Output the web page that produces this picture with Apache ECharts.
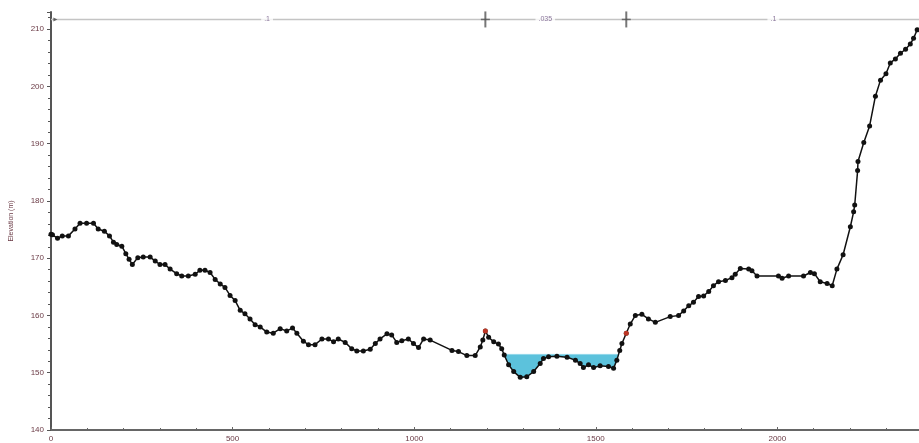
<!DOCTYPE html>
<html>
<head>
<meta charset="utf-8">
<script src="https://cdn.jsdelivr.net/npm/echarts@6/dist/echarts.min.js"></script>
<style>html,body{margin:0;padding:0;background:#fff}#c{width:919px;height:443px}</style>
</head>
<body>
<div id="c"></div>
<script>
// Ground profile: station (m) and elevation (m)
const stations = [0,4,18,31,48,66,80,98,117,130,147,161,172,181,195,206,215,224,239,254,273,287,300,314,328,346,360,378,397,410,424,438,452,466,479,493,507,521,534,548,562,576,594,612,631,649,665,677,695,709,727,746,764,778,791,810,828,842,860,879,893,906,925,938,952,966,984,998,1012,1026,1044,1104,1122,1145,1168,1182,1189,1196,1205,1219,1232,1241,1248,1260,1274,1292,1310,1329,1347,1356,1370,1393,1421,1444,1457,1466,1480,1494,1512,1535,1549,1558,1566,1572,1584,1595,1609,1627,1645,1664,1705,1728,1742,1756,1769,1783,1797,1811,1824,1838,1857,1875,1884,1898,1921,1930,1944,2003,2013,2031,2072,2091,2102,2118,2137,2151,2164,2181,2201,2210,2213,2221,2222,2238,2254,2270,2284,2299,2311,2325,2339,2353,2366,2375,2385];
const elevations = [174.2,174.1,173.5,173.9,173.9,175.1,176.1,176.1,176.1,175.1,174.7,173.9,172.8,172.4,172.1,170.8,169.8,168.9,170.1,170.2,170.2,169.5,168.9,168.9,168.1,167.3,166.9,166.9,167.2,167.9,167.9,167.5,166.3,165.5,164.9,163.5,162.6,160.9,160.3,159.4,158.4,158.0,157.1,156.9,157.7,157.3,157.8,156.9,155.5,154.9,154.9,155.9,155.9,155.4,155.9,155.3,154.2,153.8,153.8,154.1,155.1,155.9,156.8,156.6,155.3,155.6,155.9,155.1,154.4,155.9,155.7,153.9,153.7,153.0,153.0,154.5,155.7,157.3,156.2,155.4,155.0,154.2,153.1,151.4,150.2,149.2,149.3,150.2,151.6,152.5,152.8,152.9,152.7,152.2,151.6,150.9,151.4,150.9,151.2,151.1,150.8,152.2,153.9,155.1,156.9,158.5,160.0,160.2,159.4,158.8,159.8,160.0,160.8,161.7,162.3,163.3,163.4,164.2,165.2,165.9,166.1,166.6,167.2,168.2,168.1,167.8,166.9,166.9,166.5,166.9,166.9,167.5,167.3,165.9,165.6,165.2,168.1,170.6,175.5,178.1,179.3,185.3,186.9,190.2,193.1,198.3,201.1,202.2,204.1,204.8,205.8,206.5,207.4,208.4,209.9];

// Bank stations
const bankStations = [1196, 1584];
const bankElevations = [157.3, 156.9];

// Water surface elevation
const waterSurface = 153.2;

// Manning's n bar
const nBarElevation = 211.7;
const nValues = ['.1', '.035', '.1'];
const nLabelStations = [595, 1361, 1989];

// Axis ticks
const xTicks = [0, 500, 1000, 1500, 2000];
const yTicks = [140, 150, 160, 170, 180, 190, 200, 210];
const xMax = 2390;

const ground = stations.map((s, i) => [s, elevations[i]]);

// water polygon: ground points below water surface between bank stations, with interpolated edges
function waterPolygon() {
  const pts = [];
  let inside = false;
  for (let i = 1; i < ground.length; i++) {
    const [x0, y0] = ground[i - 1], [x1, y1] = ground[i];
    if (x1 < bankStations[0] || x0 > bankStations[1]) continue;
    const b0 = y0 < waterSurface, b1 = y1 < waterSurface;
    if (!b0 && b1) {
      const t = (y0 - waterSurface) / (y0 - y1);
      pts.push([x0 + t * (x1 - x0), waterSurface]);
      inside = true;
    }
    if (b1 && inside) pts.push([x1, y1]);
    if (b0 && !b1 && inside) {
      const t = (waterSurface - y0) / (y1 - y0);
      pts.push([x0 + t * (x1 - x0), waterSurface]);
      inside = false;
    }
  }
  return pts;
}
const waterPts = waterPolygon();

const labelColor = '#6a3a45';
const chart = echarts.init(document.getElementById('c'), null, {renderer: 'canvas'});
chart.setOption({
  animation: false,
  backgroundColor: '#fff',
  grid: {left: 51, right: 0, top: 12, bottom: 9, containLabel: false},
  xAxis: {
    type: 'value', min: 0, max: xMax, interval: 500,
    axisLine: {show: true, lineStyle: {color: '#666', width: 2}},
    axisTick: {show: true, inside: true, length: 3, lineStyle: {color: '#666'}},
    minorTick: {show: true, splitNumber: 5, length: 2, lineStyle: {color: '#666'}},
    splitLine: {show: false},
    axisLabel: {
      color: labelColor, fontSize: 8, fontFamily: 'Liberation Sans', margin: 5, showMaxLabel: false,
      formatter: v => xTicks.includes(v) ? String(v) : ''
    }
  },
  yAxis: {
    type: 'value', min: 140, max: 213, interval: 10,
    name: 'Elevation (m)', nameLocation: 'middle', nameGap: 36,
    nameTextStyle: {color: labelColor, fontSize: 7, fontFamily: 'Liberation Sans'},
    axisLine: {show: true, lineStyle: {color: '#555', width: 2}},
    axisTick: {show: true, length: 4, lineStyle: {color: '#555'}},
    minorTick: {show: true, splitNumber: 5, length: 3, lineStyle: {color: '#555'}},
    splitLine: {show: false},
    axisLabel: {
      color: labelColor, fontSize: 8, fontFamily: 'Liberation Sans', margin: 7, showMaxLabel: false,
      formatter: v => yTicks.includes(v) ? String(v) : ''
    }
  },
  series: [
    {
      type: 'custom', z: 1, clip: true,
      data: [[0, 0]],
      renderItem: (params, api) => ({
        type: 'polygon',
        shape: {points: waterPts.map(p => api.coord(p))},
        style: {fill: '#5cc2dc', stroke: '#8fd6ea', lineWidth: 1}
      })
    },
    {
      type: 'line', z: 2, data: [[0, nBarElevation], [xMax, nBarElevation]],
      symbol: 'none', lineStyle: {color: '#c4c4c4', width: 1.5}, silent: true
    },
    {
      type: 'scatter', z: 3, symbolSize: 0,
      data: nValues.map((n, i) => ({name: n, value: [nLabelStations[i], nBarElevation]})),
      label: {show: true, position: 'inside', formatter: '{b}', color: '#6a5080', fontSize: 7,
        fontFamily: 'Liberation Sans', backgroundColor: '#fff', padding: [0, 3]}
    },
    {
      type: 'scatter', z: 4, symbol: 'rect', symbolSize: [2, 16],
      data: bankStations.map(s => [s, nBarElevation]), itemStyle: {color: '#555'}
    },
    {
      type: 'scatter', z: 4, symbol: 'rect', symbolSize: [9, 1.5],
      data: bankStations.map(s => [s, nBarElevation]), itemStyle: {color: '#555'}
    },
    {
      type: 'scatter', z: 4, symbol: 'triangle', symbolRotate: -90, symbolSize: [4, 4],
      data: [[12, nBarElevation]], itemStyle: {color: '#444'}
    },
    {
      type: 'line', z: 5, data: ground,
      symbol: 'circle', symbolSize: 5, showAllSymbol: true,
      lineStyle: {color: '#111', width: 1.5},
      itemStyle: {color: '#111'}
    },
    {
      type: 'scatter', z: 6, symbolSize: 5,
      data: bankStations.map((s, i) => [s, bankElevations[i]]),
      itemStyle: {color: '#e8402a'}
    }
  ]
});
</script>
</body>
</html>
